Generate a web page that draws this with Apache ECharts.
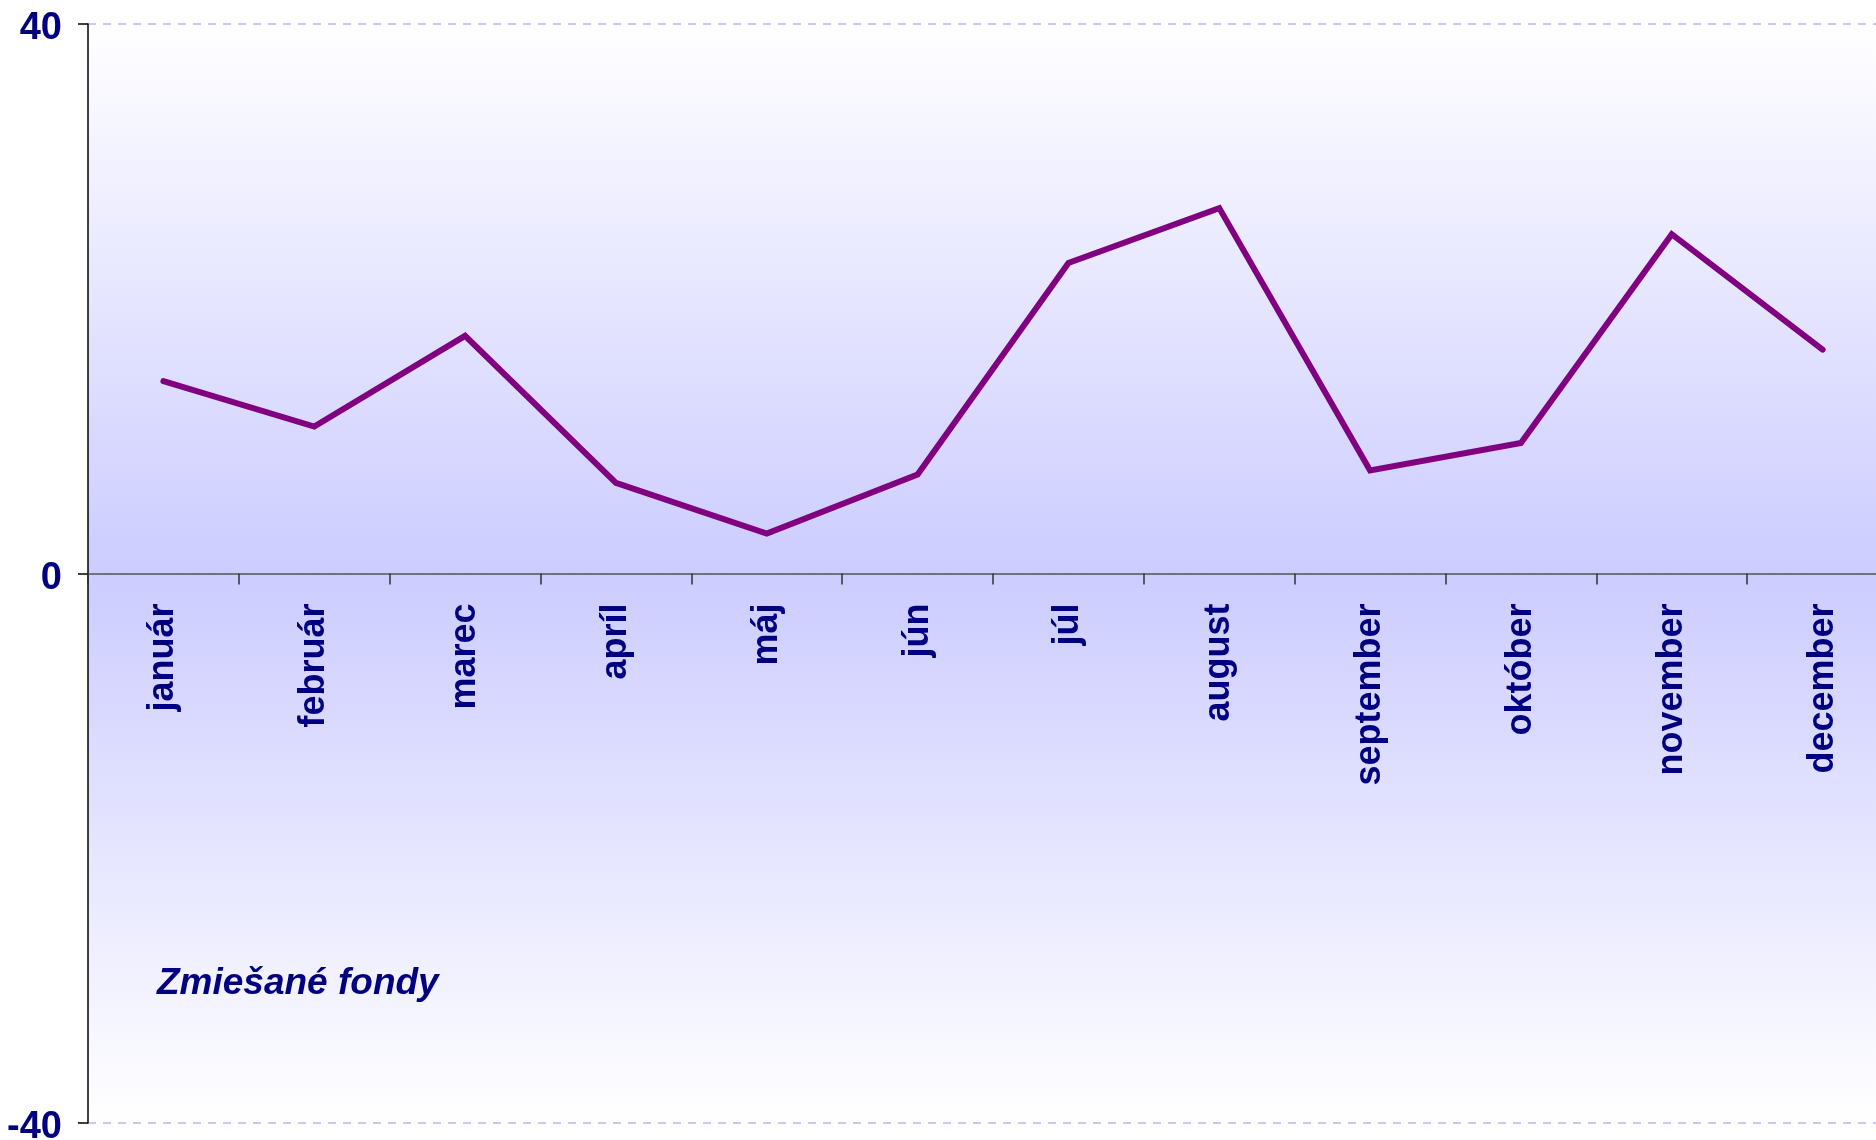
<!DOCTYPE html>
<html>
<head>
<meta charset="utf-8">
<script src="https://cdn.jsdelivr.net/npm/echarts@6/dist/echarts.min.js"></script>
<style>
  html, body { margin: 0; padding: 0; background: #ffffff; }
  #main { width: 1876px; height: 1140px; }
</style>
</head>
<body>
<div id="main"></div>
<script>
// mesiace
const months = ['január', 'február', 'marec', 'apríl', 'máj', 'jún', 'júl', 'august', 'september', 'október', 'november', 'december']
// hodnoty radu
const values = [14.0, 10.7, 17.3, 6.6, 2.9, 7.2, 22.6, 26.6, 7.5, 9.5, 24.7, 16.3]
// os y
const yMin = -40
const yMax = 40
const yStep = 40
const note = 'Zmiešané fondy'

const navy = '#000080'
const gridTop = 24
const gridBottom = 17
const gridHeight = 1140 - gridTop - gridBottom

const myChart = echarts.init(document.getElementById('main'))
const option = {
  animation: false,
  backgroundColor: '#ffffff',
  grid: {
    left: 88,
    top: gridTop,
    right: -22,
    bottom: gridBottom,
    containLabel: false,
    outerBoundsMode: 'none',
    show: true,
    borderWidth: 0,
    backgroundColor: new echarts.graphic.LinearGradient(0, 0, 0, 1, [
      { offset: 0, color: '#ffffff' },
      { offset: 0.5, color: '#ccccff' },
      { offset: 1, color: '#ffffff' }
    ])
  },
  xAxis: {
    type: 'category',
    data: months,
    boundaryGap: true,
    position: 'bottom',
    // os x lezi na nule (v strede)
    offset: -gridHeight / 2,
    axisLine: { onZero: false, lineStyle: { color: '#555555', width: 1.5 } },
    axisTick: { show: true, length: 11, lineStyle: { color: '#333333', width: 1.5 } },
    axisLabel: {
      rotate: 90,
      margin: 30,
      color: navy,
      fontSize: 36,
      fontWeight: 'bold',
      fontFamily: 'Liberation Sans, Arial, sans-serif'
    }
  },
  yAxis: {
    type: 'value',
    min: yMin,
    max: yMax,
    interval: yStep,
    axisLine: { show: true, lineStyle: { color: '#000000', width: 1.5 } },
    axisTick: { show: true, length: 10, lineStyle: { color: '#000000', width: 1.5 } },
    axisLabel: {
      margin: 26,
      verticalAlign: 'top',
      lineHeight: 10,
      color: navy,
      fontSize: 38,
      fontWeight: 'bold',
      fontFamily: 'Liberation Sans Narrow, Arial Narrow, Liberation Sans, sans-serif'
    },
    splitLine: { show: true, lineStyle: { color: '#c8c8ff', type: [8, 7], width: 2 } }
  },
  graphic: [{
    type: 'text',
    left: 157,
    top: 965,
    style: {
      text: note,
      fill: navy,
      font: 'italic bold 37px "Liberation Sans", Arial, sans-serif'
    }
  }],
  series: [{
    name: note,
    type: 'line',
    data: values,
    symbol: 'none',
    lineStyle: { color: '#800080', width: 6, cap: 'round', join: 'miter' }
  }]
}
myChart.setOption(option)
</script>
</body>
</html>
